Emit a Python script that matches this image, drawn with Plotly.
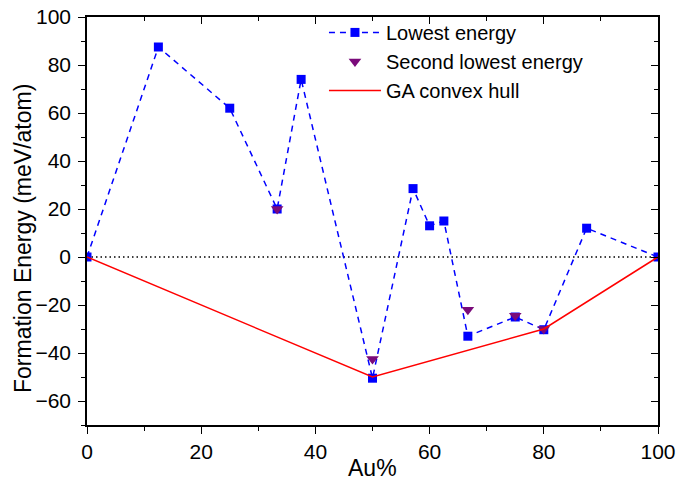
import plotly.graph_objects as go

# Data
au_lowest = [0, 12.5, 25, 33.3, 37.5, 50, 57.1, 60, 62.5, 66.7, 75, 80, 87.5, 100]
e_lowest = [0, 87.5, 62, 20, 74, -50.5, 28.5, 13, 15, -33, -25, -30.3, 12, 0]

au_second = [33.3, 50, 66.7, 75, 80]
e_second = [20, -42.5, -22, -24.5, -30]

au_hull = [0, 50, 80, 100]
e_hull = [0, -50, -30, 0]

zero_x = [0, 100]
zero_y = [0, 0]

FONT = "Arial, Liberation Sans, sans-serif"

fig = go.Figure()

fig.add_trace(go.Scatter(
    x=zero_x, y=zero_y, mode="lines", showlegend=False,
    line=dict(color="black", width=1.3, dash="1.5px,3px"), hoverinfo="skip"))

fig.add_trace(go.Scatter(
    x=au_lowest, y=e_lowest, mode="lines+markers", name="Lowest energy",
    line=dict(color="#0000FF", width=1.5, dash="6px,5px"),
    marker=dict(symbol="square", size=9, color="#0000FF")))

fig.add_trace(go.Scatter(
    x=au_second, y=e_second, mode="markers", name="Second lowest energy",
    marker=dict(symbol="triangle-down", size=11, color="#7A0A7A")))

fig.add_trace(go.Scatter(
    x=au_hull, y=e_hull, mode="lines", name="GA convex hull",
    line=dict(color="#FF0000", width=1.5)))

# invisible traces to carry mirrored inside ticks
fig.add_trace(go.Scatter(x=zero_x, y=zero_y, xaxis="x2", yaxis="y2", mode="markers",
                         marker=dict(opacity=0), showlegend=False, hoverinfo="skip"))

axis_common = dict(
    showgrid=False, zeroline=False, showline=True, linecolor="black", linewidth=1.5,
    tickfont=dict(family=FONT, size=21, color="black"), automargin=False,
)

fig.update_layout(
    width=690, height=483,
    margin=dict(l=87, r=32, t=17, b=58, autoexpand=False),
    paper_bgcolor="white", plot_bgcolor="white",
    font=dict(family=FONT, color="black"),
    xaxis=dict(
        **axis_common, range=[0, 100], dtick=20, tick0=0, ticks="outside", ticklen=7, tickwidth=1.3,
        tickcolor="black", mirror=True,
        minor=dict(ticks="outside", ticklen=4, dtick=10, tickcolor="black", tickwidth=1.3),
    ),
    yaxis=dict(
        **axis_common, range=[-70, 100], dtick=20, tick0=0, ticks="outside", ticklen=7, tickwidth=1.3,
        tickcolor="black", mirror=True, ticklabelstandoff=3,
        minor=dict(ticks="outside", ticklen=4, dtick=10, tickcolor="black", tickwidth=1.3),
    ),
    xaxis2=dict(overlaying="x", side="top", range=[0, 100], dtick=20, tick0=0, ticks="inside",
                ticklen=7, tickwidth=1.3, tickcolor="black", showticklabels=False, showgrid=False,
                zeroline=False, showline=False, automargin=False,
                minor=dict(ticks="inside", ticklen=4, dtick=10, tickcolor="black", tickwidth=1.3)),
    yaxis2=dict(overlaying="y", side="right", range=[-70, 100], dtick=20, tick0=0, ticks="inside",
                ticklen=7, tickwidth=1.3, tickcolor="black", showticklabels=False, showgrid=False,
                zeroline=False, showline=False, automargin=False,
                minor=dict(ticks="inside", ticklen=4, dtick=10, tickcolor="black", tickwidth=1.3)),
    legend=dict(x=0.415, y=1.01, xanchor="left", yanchor="top", bgcolor="rgba(0,0,0,0)",
                font=dict(family=FONT, size=20), itemwidth=52, tracegroupgap=0),
    showlegend=True,
)

fig.add_annotation(text="Formation Energy (meV/atom)", textangle=-90, xref="paper", yref="paper",
                   x=-0.112, y=0.456, xanchor="center", yanchor="middle", showarrow=False,
                   font=dict(family=FONT, size=23, color="black"))

fig.add_annotation(text="Au%", xref="paper", yref="paper",
                   x=0.5, y=-0.141, xanchor="center", yanchor="bottom", showarrow=False,
                   font=dict(family=FONT, size=23, color="black"))

fig.write_html("out.html")
